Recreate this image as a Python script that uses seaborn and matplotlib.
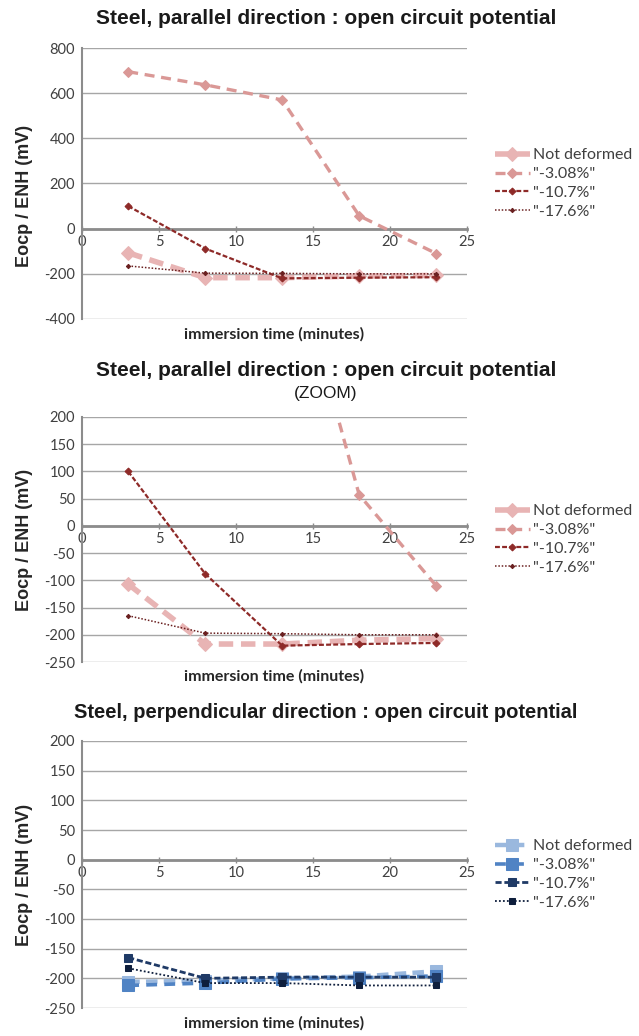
import numpy as np
import pandas as pd
import matplotlib
matplotlib.use("Agg")
import matplotlib.pyplot as plt
import seaborn as sns

# ---------------- data ----------------
time_min = [3, 8, 13, 18, 23]
series_names = ["Not deformed", "\"-3.08%\"", "\"-10.7%\"", "\"-17.6%\""]

par_not_deformed = [-107, -217, -217, -210, -207]
par_308 = [695, 637, 570, 57, -110]
par_107 = [100, -88, -220, -217, -215]
par_176 = [-165, -197, -198, -200, -200]

perp_not_deformed = [-206, -204, -200, -197, -188]
perp_308 = [-212, -208, -201, -199, -196]
perp_107 = [-165, -200, -198, -198, -198]
perp_176 = [-183, -208, -208, -212, -212]

title_par = "Steel, parallel direction : open circuit potential"
title_zoom = "(ZOOM)"
title_perp = "Steel, perpendicular direction : open circuit potential"
xlabel = "immersion time (minutes)"
ylabel = "Eocp / ENH (mV)"

yticks_full = [-400, -200, 0, 200, 400, 600, 800]
yticks_zoom = [-250, -200, -150, -100, -50, 0, 50, 100, 150, 200]
xticks = [0, 5, 10, 15, 20, 25]

# ---------------- style ----------------
sns.set_theme(style="white")
plt.rcParams["font.family"] = ["Lato", "DejaVu Sans"]
plt.rcParams["axes.unicode_minus"] = False

red_colors = ["#E8B4B4", "#DA9896", "#8E2A28", "#6A2020"]
red_lw = [4.0, 2.4, 1.6, 1.1]
red_dash = [(2.6, 1.4), (3.0, 2.0), (2.2, 1.0), (1.0, 1.2)]
red_ms = [7, 5.5, 3.5, 2.2]
red_marker = ["D", "D", "D", "D"]

blue_colors = ["#9AB8DE", "#5083C4", "#1F3A66", "#0E1E3C"]
blue_lw = [3.2, 2.6, 2.0, 1.3]
blue_dash = [(2.6, 1.4), (3.0, 2.0), (2.2, 1.0), (1.0, 1.2)]
blue_ms = [8, 8, 6, 4]
blue_marker = ["s", "s", "s", "s"]

fig = plt.figure(figsize=(6.39, 10.36), dpi=100)

W = 1036.0
def ax_rect(top_px, bot_px, left_px=82, right_px=467):
    return [left_px / 639.0, 1 - bot_px / W, (right_px - left_px) / 639.0, (bot_px - top_px) / W]

def style_axes(ax, ylim, yticks):
    ax.set_xlim(0, 25)
    ax.set_ylim(*ylim)
    ax.set_yticks(yticks)
    ax.set_xticks(xticks)
    ax.set_xticklabels([str(t) for t in xticks])
    ax.set_yticklabels([str(t) for t in yticks])
    ax.yaxis.grid(True, color="#A6A6A6", linewidth=1.0)
    ax.xaxis.grid(False)
    for s in ["top", "right"]:
        ax.spines[s].set_visible(False)
    ax.spines["left"].set_color("#8C8C8C")
    ax.spines["left"].set_linewidth(1.5)
    ax.spines["bottom"].set_position(("data", 0))
    ax.spines["bottom"].set_color("#8C8C8C")
    ax.spines["bottom"].set_linewidth(2.0)
    ax.spines["bottom"].set_zorder(1)
    ax.tick_params(axis="x", direction="inout", length=5, width=1, color="#8C8C8C",
                   labelsize=10.5, labelcolor="#404040", pad=2, bottom=True)
    ax.tick_params(axis="y", length=0, labelsize=10.5, labelcolor="#404040", pad=5)
    ax.set_xlabel("")
    ax.set_ylabel("")
    ax.set_axisbelow(True)

def add_labels(ax, ylab_y=0.5):
    ax.text(0.5, -0.058, xlabel, transform=ax.transAxes, ha="center", va="center",
            fontsize=11.5, fontweight="bold", color="#262626")
    ax.text(-0.15, ylab_y, ylabel, transform=ax.transAxes, ha="center", va="center",
            rotation=90, fontsize=13, fontweight="bold", color="#262626",
            family=["Liberation Sans", "DejaVu Sans"])

def draw(ax, ys, colors, lws, dashes, mss, markers):
    for name, y, c, lw, d, ms, mk in zip(series_names, ys, colors, lws, dashes, mss, markers):
        df = pd.DataFrame({"t": time_min, "v": y})
        sns.lineplot(data=df, x="t", y="v", ax=ax, color=c, linewidth=lw,
                     marker=mk, markersize=ms, markeredgecolor=c, markerfacecolor=c,
                     label=name, dashes=False, legend=False)
        ax.lines[-1].set_dashes(d)
        ax.lines[-1].set_clip_on(True)

def legend(ax):
    leg = ax.legend(loc="center left", bbox_to_anchor=(1.055, 0.5), frameon=False,
                    fontsize=11.5, handlelength=2.2, handletextpad=0.2, labelspacing=0.3,
                    borderaxespad=0)
    for t in leg.get_texts():
        t.set_color("#404040")

# panel 1
ax1 = fig.add_axes(ax_rect(48, 319))
draw(ax1, [par_not_deformed, par_308, par_107, par_176], red_colors, red_lw, red_dash, red_ms, red_marker)
style_axes(ax1, (-400, 800), yticks_full)
add_labels(ax1, 0.455)
legend(ax1)

# panel 2
ax2 = fig.add_axes(ax_rect(417, 662))
draw(ax2, [par_not_deformed, par_308, par_107, par_176], red_colors, red_lw, red_dash, red_ms, red_marker)
style_axes(ax2, (-250, 200), yticks_zoom)
add_labels(ax2)
legend(ax2)

# panel 3
ax3 = fig.add_axes(ax_rect(741, 1008))
draw(ax3, [perp_not_deformed, perp_308, perp_107, perp_176], blue_colors, blue_lw, blue_dash, blue_ms, blue_marker)
style_axes(ax3, (-250, 200), yticks_zoom)
add_labels(ax3)
legend(ax3)

tfam = ["Liberation Sans", "DejaVu Sans"]
fig.text(0.51, 1 - 18 / W, title_par, ha="center", va="center", fontsize=15, fontweight="bold", color="#1a1a1a", family=tfam)
fig.text(0.51, 1 - 370 / W, title_par, ha="center", va="center", fontsize=15, fontweight="bold", color="#1a1a1a", family=tfam)
fig.text(0.51, 1 - 393 / W, title_zoom, ha="center", va="center", fontsize=12.5, color="#1a1a1a", family=tfam)
fig.text(0.51, 1 - 713 / W, title_perp, ha="center", va="center", fontsize=14.5, fontweight="bold", color="#1a1a1a", family=tfam)

fig.savefig("out.png", dpi=100, facecolor="white")
